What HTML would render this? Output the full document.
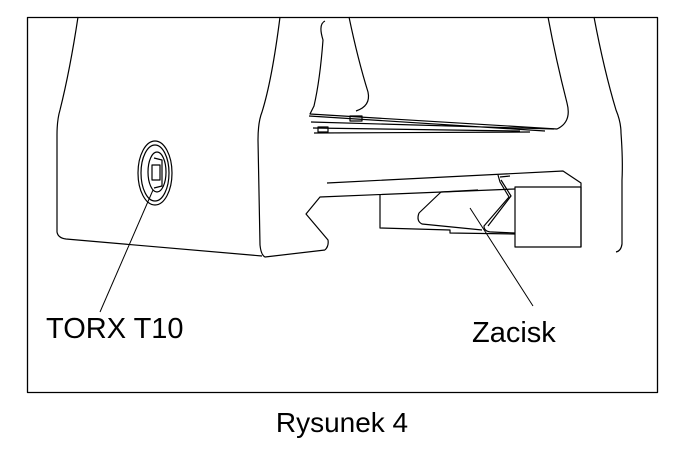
<!DOCTYPE html>
<html><head><style>
body{margin:0;background:#fff;width:683px;height:452px;overflow:hidden}
svg{position:absolute;left:0;top:0}
text{font-family:"Liberation Sans",sans-serif;fill:#000}
</style></head><body>
<svg width="683" height="452" viewBox="0 0 683 452">
<g fill="none" stroke="#000" stroke-width="1.2" stroke-linejoin="round">
<rect x="27.5" y="17.5" width="630" height="375" stroke-width="1.3"/>
<path d="M78 17 Q70 70 60 110 Q57 120 57 135 L57 232 Q58 238 66 239 L262 256"/>
<path d="M280 17 Q272 80 262 112 Q258 122 258 140 L260 245 Q261 255 265 257 L325 250"/>
<path d="M325 250 Q329 246 328 240 L306 214 L320 197 L515 189"/>
<path d="M327 183 L563 171 L581 183 L581 247"/>
<rect x="515" y="187" width="66" height="60"/>
<path d="M621 133 Q623 160 622 180 L622 244 Q621 251 616 252"/>
<path d="M594 17 Q604 70 616 110 Q621 122 621 133"/>
<path d="M325 21 Q318 24 323 40 Q320 80 314 106 L310 114 L557 129 Q572 122 567 103 Q556 60 548 17"/>
<path d="M349 17 Q358 60 368 92 Q371 106 356 111"/>
<path d="M309 116 L545 131 M311 122 L554 129 M313 128 L520 131 M314 133 L530 132"/>
<path d="M350 116 l12 0 0 5 -12 0 z M318 127 l10 0 0 5 -10 0 z"/>
<path d="M380 195 L380 228 L450 230 L450 233 L515 234"/>
<path d="M419 213 L441 192 L478 190 M419 213 Q416 221 422 224 L482 230"/>
<path d="M498 175 L500 182 L509 197 L484 226 Q484 232 492 232 L515 233"/>
<path d="M501 180 L511 196 L488 226 M500 177 L510 176"/>
<ellipse cx="155" cy="173" rx="17" ry="32"/>
<ellipse cx="155" cy="173" rx="14" ry="28"/>
<ellipse cx="157" cy="172" rx="9" ry="20"/>
<path d="M152 165 L160 165 L160 180 L152 180 Z M154 158 L162 160 L162 186 L154 188"/>
<path d="M153 190 L100 312" stroke-width="1"/>
<path d="M470 208 L533 306" stroke-width="1"/>
</g>
<text x="46" y="338" font-size="29">TORX T10</text>
<text x="472" y="342" font-size="29">Zacisk</text>
<text x="342" y="432" font-size="28" text-anchor="middle">Rysunek 4</text>
</svg>
</body></html>
